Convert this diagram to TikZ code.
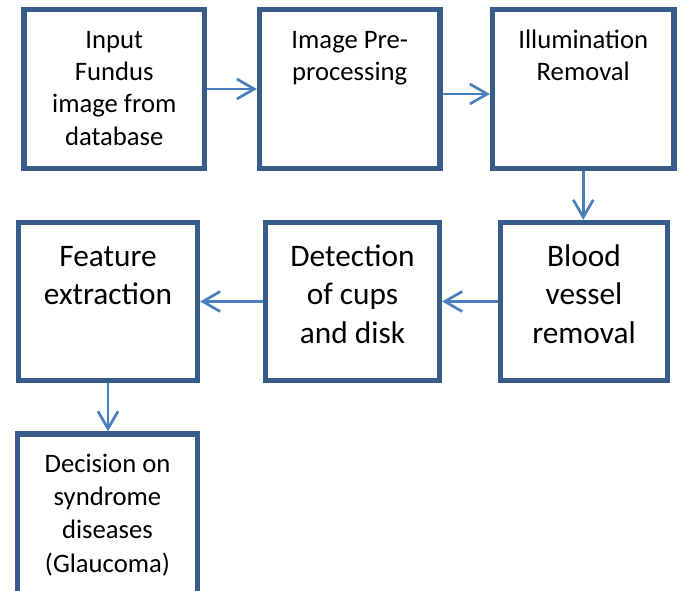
\documentclass[tikz,border=0pt]{standalone}
\usepackage{fontspec}
\setmainfont{Carlito}
\usetikzlibrary{arrows.meta,fit}
\definecolor{boxblue}{HTML}{385D8A}
\definecolor{arrowblue}{HTML}{4A7EBB}
\begin{document}
\begin{tikzpicture}[x=0.75pt,y=-0.75pt,
  box/.style={draw=boxblue, line width=4pt, rectangle, inner sep=0pt},
  arr/.style={draw=arrowblue, line width=2pt,
    -{Straight Barb[length=13pt,width=15pt]}},
  smalltext/.style={align=center, inner sep=0pt, anchor=north,
    font=\fontsize{20}{24.3}\selectfont},
  bigtext/.style={align=center, inner sep=0pt, anchor=north,
    font=\fontsize{23.5}{28.7}\selectfont},
  lasttext/.style={align=center, inner sep=0pt, anchor=north,
    font=\fontsize{20}{24.9}\selectfont}]
\useasboundingbox (0,0) rectangle (681,591);
\clip (0,0) rectangle (681,591);

% first row of steps
\node[box, fit={(24,9.5) (204.5,168.5)}] (b1) {};
\node[box, fit={(259.5,9.5) (440,168.5)}] (b2) {};
\node[box, fit={(492.5,9.5) (674,168.5)}] (b3) {};
% second row, read from right to left
\node[box, fit={(500.5,222.5) (667.5,380.5)}] (b4) {};
\node[box, fit={(265.5,222.5) (439.5,380.5)}] (b5) {};
\node[box, fit={(18.5,222.5) (197.5,380.5)}] (b6) {};
% final decision box runs off the lower edge
\node[box, fit={(17.5,434) (197.5,640)}] (b7) {};

% labels, set from the top of each box
\node[smalltext] (t1) at (114.25,25.2) {\strut Input\\Fundus\\image from\\database};
\node[smalltext] (t2) at (349.75,25.2) {\strut Image Pre-\\processing};
\node[smalltext] (t3) at (583.25,25.2) {\strut Illumination\\Removal};
\node[bigtext] (t4) at (584,239.6) {\strut Blood\\vessel\\removal};
\node[bigtext] (t5) at (352.5,239.6) {\strut Detection\\of cups\\and disk};
\node[bigtext] (t6) at (108,239.6) {\strut Feature\\extraction};
\node[lasttext] (t7) at (107.5,448.9) {\strut Decision on\\syndrome\\diseases\\(Glaucoma)};

% connectors
\draw[arr] (b1.east) -- (b2.west);
\draw[arr] ([yshift=-3.75pt]b2.east) -- ([yshift=-3.75pt]b3.west);
\draw[arr] (b3.south) -- (b3.south |- b4.north);
\draw[arr] (b4.west) -- (b5.east);
\draw[arr] (b5.west) -- (b6.east);
\draw[arr] (b6.south) -- (b6.south |- b7.north);
\end{tikzpicture}
\end{document}
